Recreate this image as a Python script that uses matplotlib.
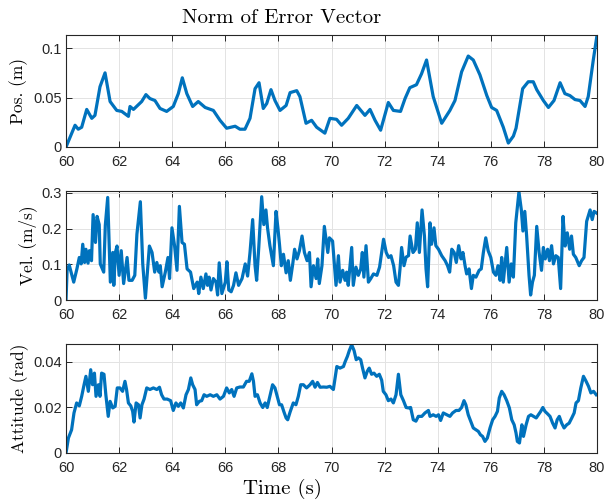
import matplotlib
matplotlib.use("Agg")
import matplotlib.pyplot as plt

# position error norm (m)
pos_t = [60.0, 60.34, 60.46, 60.59, 60.78, 60.97, 61.09, 61.28, 61.47, 61.66,
         61.91, 62.1, 62.35, 62.41, 62.54, 62.85, 63.01, 63.16, 63.35, 63.54,
         63.79, 64.04, 64.23, 64.38, 64.55, 64.77, 64.98, 65.24, 65.55, 65.8,
         66.05, 66.37, 66.55, 66.74, 66.93, 67.12, 67.27, 67.43, 67.56, 67.72,
         67.87, 68.06, 68.29, 68.44, 68.69, 68.81, 69.04, 69.25, 69.44, 69.75,
         69.94, 70.19, 70.38, 70.63, 70.95, 71.26, 71.45, 71.64, 71.85, 72.14,
         72.33, 72.6, 72.77, 72.95, 73.2, 73.39, 73.58, 73.83, 74.15, 74.46,
         74.65, 74.9, 75.15, 75.34, 75.59, 75.85, 76.03, 76.22, 76.47, 76.66,
         76.85, 76.95, 77.2, 77.41, 77.6, 77.73, 77.98, 78.17, 78.38, 78.61,
         78.79, 78.98, 79.17, 79.36, 79.55, 79.67, 79.86, 80.0]
pos_v = [0.0, 0.022, 0.018, 0.020, 0.038, 0.029, 0.032, 0.061, 0.075, 0.046,
         0.037, 0.036, 0.031, 0.041, 0.038, 0.046, 0.053, 0.049, 0.047, 0.039,
         0.036, 0.041, 0.054, 0.070, 0.054, 0.041, 0.046, 0.040, 0.037, 0.027,
         0.019, 0.021, 0.018, 0.018, 0.029, 0.059, 0.065, 0.039, 0.044, 0.058,
         0.047, 0.037, 0.042, 0.055, 0.057, 0.051, 0.024, 0.027, 0.020, 0.014,
         0.029, 0.028, 0.022, 0.029, 0.042, 0.032, 0.038, 0.027, 0.017, 0.045,
         0.037, 0.036, 0.049, 0.060, 0.063, 0.074, 0.088, 0.051, 0.024, 0.037,
         0.047, 0.076, 0.092, 0.088, 0.073, 0.052, 0.040, 0.037, 0.020, 0.004,
         0.011, 0.019, 0.059, 0.066, 0.066, 0.058, 0.047, 0.040, 0.047, 0.065,
         0.054, 0.052, 0.048, 0.047, 0.041, 0.051, 0.088, 0.113]

# velocity error norm (m/s)
vel_t = [60.0, 60.04, 60.12, 60.29, 60.41, 60.5, 60.57, 60.63, 60.7, 60.75,
         60.83, 60.88, 60.96, 61.02, 61.11, 61.17, 61.25, 61.29, 61.42, 61.48,
         61.57, 61.67, 61.76, 61.8, 61.86, 61.92, 62.0, 62.08, 62.17, 62.3,
         62.37, 62.49, 62.59, 62.67, 62.8, 62.89, 62.99, 63.14, 63.24, 63.34,
         63.42, 63.5, 63.55, 63.62, 63.74, 63.84, 63.9, 63.99, 64.09, 64.18,
         64.27, 64.37, 64.46, 64.56, 64.69, 64.81, 64.94, 65.0, 65.08, 65.17,
         65.27, 65.33, 65.39, 65.46, 65.55, 65.65, 65.71, 65.77, 65.87, 66.0,
         66.06, 66.13, 66.22, 66.31, 66.4, 66.5, 66.63, 66.75, 66.84, 66.93,
         67.03, 67.12, 67.18, 67.26, 67.37, 67.45, 67.53, 67.59, 67.68, 67.81,
         67.91, 67.98, 68.04, 68.11, 68.19, 68.29, 68.37, 68.45, 68.54, 68.61,
         68.7, 68.79, 68.89, 68.98, 69.08, 69.17, 69.23, 69.32, 69.42, 69.48,
         69.54, 69.64, 69.73, 69.86, 69.92, 70.04, 70.17, 70.26, 70.32, 70.42,
         70.51, 70.57, 70.63, 70.76, 70.82, 70.92, 71.01, 71.1, 71.16, 71.22,
         71.3, 71.39, 71.48, 71.58, 71.71, 71.81, 71.96, 72.06, 72.15, 72.24,
         72.34, 72.43, 72.52, 72.58, 72.64, 72.73, 72.81, 72.9, 72.96, 73.07,
         73.16, 73.23, 73.31, 73.41, 73.5, 73.56, 73.62, 73.71, 73.77, 73.86,
         73.93, 74.03, 74.15, 74.28, 74.37, 74.45, 74.53, 74.62, 74.7, 74.79,
         74.88, 74.95, 75.03, 75.09, 75.18, 75.27, 75.34, 75.44, 75.56, 75.64,
         75.72, 75.81, 75.9, 76.0, 76.1, 76.19, 76.27, 76.35, 76.41, 76.47,
         76.53, 76.6, 76.69, 76.77, 76.85, 76.94, 77.06, 77.15, 77.21, 77.28,
         77.35, 77.44, 77.5, 77.57, 77.64, 77.73, 77.82, 77.91, 77.98, 78.05,
         78.14, 78.21, 78.29, 78.36, 78.45, 78.54, 78.63, 78.72, 78.8, 78.88,
         78.97, 79.04, 79.11, 79.2, 79.33, 79.42, 79.51, 79.61, 79.74, 79.82,
         79.89, 79.99]
vel_v = [0.0, 0.083, 0.098, 0.050, 0.087, 0.119, 0.101, 0.156, 0.105, 0.142,
         0.103, 0.138, 0.110, 0.239, 0.161, 0.234, 0.211, 0.101, 0.078, 0.209,
         0.287, 0.050, 0.133, 0.041, 0.133, 0.151, 0.069, 0.138, 0.046, 0.119,
         0.055, 0.055, 0.069, 0.184, 0.275, 0.101, 0.005, 0.151, 0.133, 0.078,
         0.105, 0.078, 0.096, 0.037, 0.078, 0.119, 0.060, 0.202, 0.151, 0.083,
         0.262, 0.161, 0.156, 0.087, 0.078, 0.032, 0.050, 0.018, 0.064, 0.032,
         0.073, 0.041, 0.064, 0.028, 0.060, 0.050, 0.014, 0.104, 0.018, 0.050,
         0.107, 0.028, 0.023, 0.041, 0.076, 0.041, 0.060, 0.101, 0.067, 0.133,
         0.225, 0.096, 0.055, 0.147, 0.289, 0.211, 0.252, 0.202, 0.152, 0.096,
         0.248, 0.202, 0.156, 0.096, 0.128, 0.076, 0.110, 0.055, 0.101, 0.142,
         0.115, 0.138, 0.179, 0.133, 0.110, 0.133, 0.037, 0.096, 0.060, 0.115,
         0.046, 0.096, 0.206, 0.133, 0.174, 0.165, 0.041, 0.124, 0.050, 0.083,
         0.055, 0.078, 0.041, 0.147, 0.041, 0.092, 0.069, 0.087, 0.133, 0.064,
         0.152, 0.050, 0.060, 0.073, 0.069, 0.092, 0.170, 0.133, 0.119, 0.124,
         0.096, 0.050, 0.041, 0.087, 0.147, 0.096, 0.120, 0.124, 0.179, 0.133,
         0.142, 0.216, 0.133, 0.252, 0.179, 0.087, 0.037, 0.216, 0.156, 0.202,
         0.152, 0.142, 0.124, 0.110, 0.096, 0.078, 0.142, 0.133, 0.105, 0.152,
         0.115, 0.133, 0.096, 0.073, 0.087, 0.032, 0.069, 0.064, 0.083, 0.087,
         0.133, 0.174, 0.138, 0.119, 0.078, 0.069, 0.096, 0.055, 0.119, 0.050,
         0.096, 0.147, 0.050, 0.101, 0.064, 0.216, 0.303, 0.252, 0.193, 0.248,
         0.179, 0.069, 0.014, 0.050, 0.069, 0.206, 0.133, 0.083, 0.147, 0.115,
         0.142, 0.110, 0.152, 0.101, 0.124, 0.119, 0.032, 0.234, 0.151, 0.188,
         0.142, 0.179, 0.128, 0.119, 0.096, 0.110, 0.119, 0.220, 0.252, 0.225,
         0.248, 0.243]

# attitude error norm (rad)
att_t = [60.0, 60.09, 60.21, 60.3, 60.4, 60.5, 60.59, 60.68, 60.75, 60.84,
         60.93, 61.0, 61.07, 61.13, 61.22, 61.28, 61.34, 61.43, 61.5, 61.59,
         61.66, 61.76, 61.85, 61.93, 62.03, 62.13, 62.22, 62.28, 62.35, 62.44,
         62.51, 62.56, 62.64, 62.73, 62.79, 62.86, 62.94, 63.04, 63.16, 63.29,
         63.42, 63.52, 63.6, 63.69, 63.81, 63.94, 64.04, 64.14, 64.23, 64.32,
         64.42, 64.52, 64.61, 64.7, 64.77, 64.86, 64.92, 65.02, 65.11, 65.2,
         65.3, 65.43, 65.55, 65.68, 65.8, 65.93, 66.05, 66.15, 66.24, 66.33,
         66.43, 66.55, 66.68, 66.8, 66.9, 67.0, 67.06, 67.12, 67.21, 67.31,
         67.41, 67.5, 67.58, 67.68, 67.78, 67.87, 67.94, 68.04, 68.12, 68.21,
         68.29, 68.35, 68.44, 68.5, 68.56, 68.66, 68.75, 68.84, 68.94, 69.06,
         69.19, 69.29, 69.38, 69.47, 69.57, 69.7, 69.82, 69.94, 70.07, 70.2,
         70.32, 70.45, 70.51, 70.6, 70.67, 70.76, 70.85, 70.93, 71.01, 71.1,
         71.17, 71.26, 71.35, 71.42, 71.51, 71.6, 71.7, 71.8, 71.89, 71.95,
         72.05, 72.14, 72.24, 72.33, 72.43, 72.52, 72.61, 72.71, 72.81, 72.9,
         72.98, 73.08, 73.18, 73.27, 73.4, 73.52, 73.65, 73.71, 73.83, 73.94,
         74.03, 74.11, 74.21, 74.34, 74.46, 74.56, 74.69, 74.8, 74.9, 74.99,
         75.06, 75.15, 75.24, 75.34, 75.44, 75.53, 75.61, 75.69, 75.78, 75.87,
         75.97, 76.07, 76.16, 76.25, 76.32, 76.41, 76.5, 76.6, 76.7, 76.79,
         76.88, 76.95, 77.0, 77.08, 77.17, 77.23, 77.33, 77.42, 77.51, 77.61,
         77.71, 77.79, 77.88, 77.96, 78.04, 78.13, 78.23, 78.33, 78.42, 78.5,
         78.58, 78.67, 78.76, 78.86, 78.95, 79.05, 79.14, 79.21, 79.3, 79.39,
         79.49, 79.59, 79.68, 79.77, 79.87, 79.97]
att_v = [0.0, 0.0066, 0.0102, 0.0176, 0.022, 0.0207, 0.0249, 0.030, 0.0337, 0.0271,
         0.0366, 0.030, 0.0351, 0.0249, 0.030, 0.0249, 0.0351, 0.0346, 0.0256, 0.0161,
         0.0227, 0.0198, 0.0205, 0.0286, 0.0286, 0.0271, 0.0315, 0.0279, 0.022, 0.0207,
         0.0183, 0.0136, 0.022, 0.0212, 0.0154, 0.0212, 0.0237, 0.0286, 0.0279, 0.0286,
         0.0279, 0.0289, 0.0256, 0.0237, 0.0237, 0.023, 0.0187, 0.022, 0.0205, 0.022,
         0.0198, 0.0256, 0.0279, 0.033, 0.030, 0.0279, 0.0212, 0.0227, 0.023, 0.0256,
         0.0249, 0.0256, 0.0249, 0.0256, 0.0237, 0.0249, 0.0286, 0.0264, 0.0279, 0.0249,
         0.0286, 0.029, 0.029, 0.0315, 0.0315, 0.0348, 0.0315, 0.0249, 0.0256, 0.022,
         0.020, 0.022, 0.020, 0.0249, 0.030, 0.0286, 0.0256, 0.0212, 0.0212, 0.018,
         0.0154, 0.0146, 0.018, 0.020, 0.022, 0.0212, 0.0249, 0.030, 0.030, 0.0286,
         0.030, 0.0315, 0.0289, 0.031, 0.0289, 0.029, 0.0289, 0.0293, 0.0279, 0.038,
         0.0373, 0.038, 0.040, 0.0425, 0.045, 0.0476, 0.045, 0.041, 0.0418, 0.041,
         0.0373, 0.033, 0.036, 0.0373, 0.0346, 0.0351, 0.0337, 0.0346, 0.032, 0.0271,
         0.0256, 0.023, 0.0237, 0.022, 0.0256, 0.0346, 0.0256, 0.023, 0.020, 0.0198,
         0.020, 0.0146, 0.014, 0.0161, 0.0161, 0.0176, 0.0187, 0.0161, 0.0168, 0.0161,
         0.0168, 0.0143, 0.0176, 0.0168, 0.0161, 0.0176, 0.0187, 0.0187, 0.020, 0.023,
         0.0212, 0.0168, 0.014, 0.011, 0.0102, 0.0095, 0.008, 0.0073, 0.0051, 0.0066,
         0.011, 0.0146, 0.0161, 0.0183, 0.0242, 0.0271, 0.0256, 0.023, 0.0198, 0.0146,
         0.0124, 0.0088, 0.0051, 0.0044, 0.0124, 0.0073, 0.0124, 0.0161, 0.0168, 0.0161,
         0.0154, 0.0168, 0.0183, 0.020, 0.0183, 0.0173, 0.0161, 0.0131, 0.011, 0.0146,
         0.0161, 0.0131, 0.011, 0.0124, 0.0131, 0.0154, 0.0176, 0.022, 0.023, 0.0286,
         0.0337, 0.0315, 0.0293, 0.0264, 0.0271, 0.0256]

x_ticks = list(range(60, 81, 2))
pos_ticks = [0, 0.05, 0.1]
pos_labels = ["0", "0.05", "0.1"]
vel_ticks = [0, 0.1, 0.2, 0.3]
vel_labels = ["0", "0.1", "0.2", "0.3"]
att_ticks = [0, 0.02, 0.04]
att_labels = ["0", "0.02", "0.04"]

blue = "#0072BD"
dark = "#262626"
serif = "cmr10"
tickfont = "Liberation Sans"

fig = plt.figure(figsize=(6.13, 5.0), dpi=100)
left, width = 0.1077, 0.8662
ax1 = fig.add_axes([left, 0.706, width, 0.224])
ax2 = fig.add_axes([left, 0.400, width, 0.218])
ax3 = fig.add_axes([left, 0.094, width, 0.218])

panels = [
    (ax1, pos_t, pos_v, 0.1133, pos_ticks, pos_labels, "Pos. (m)", 4),
    (ax2, vel_t, vel_v, 0.305, vel_ticks, vel_labels, "Vel. (m/s)", 3),
    (ax3, att_t, att_v, 0.0479, att_ticks, att_labels, "Attitude (rad)", 3),
]

for ax, t, v, ytop, yt, yl, lab, lpad in panels:
    ax.plot(t, v, color=blue, lw=2.3, solid_joinstyle="round")
    ax.set_xlim(60, 80)
    ax.set_ylim(0, ytop)
    ax.set_xticks(x_ticks)
    ax.set_xticklabels([str(x) for x in x_ticks], fontfamily=tickfont, fontsize=10.5, color=dark)
    ax.set_yticks(yt)
    ax.set_yticklabels(yl, fontfamily=tickfont, fontsize=10.5, color=dark)
    ax.tick_params(direction="in", length=4, width=0.7, top=True, right=True,
                   colors=dark)
    ax.tick_params(axis="x", pad=6)
    ax.tick_params(axis="y", pad=3)
    ax.grid(True, color="#e3e3e3", lw=0.7)
    ax.set_axisbelow(True)
    for s in ax.spines.values():
        s.set_color(dark)
        s.set_linewidth(0.8)
    ax.set_ylabel(lab, fontfamily=serif, fontsize=12.5, color="black", labelpad=lpad)

fig.text(0.46, 0.964, "Norm of Error Vector", ha="center", va="center",
         fontfamily=serif, fontsize=15)
fig.text(0.46, 0.022, "Time (s)", ha="center", va="center",
         fontfamily=serif, fontsize=15)

fig.savefig("out.png", dpi=100)
